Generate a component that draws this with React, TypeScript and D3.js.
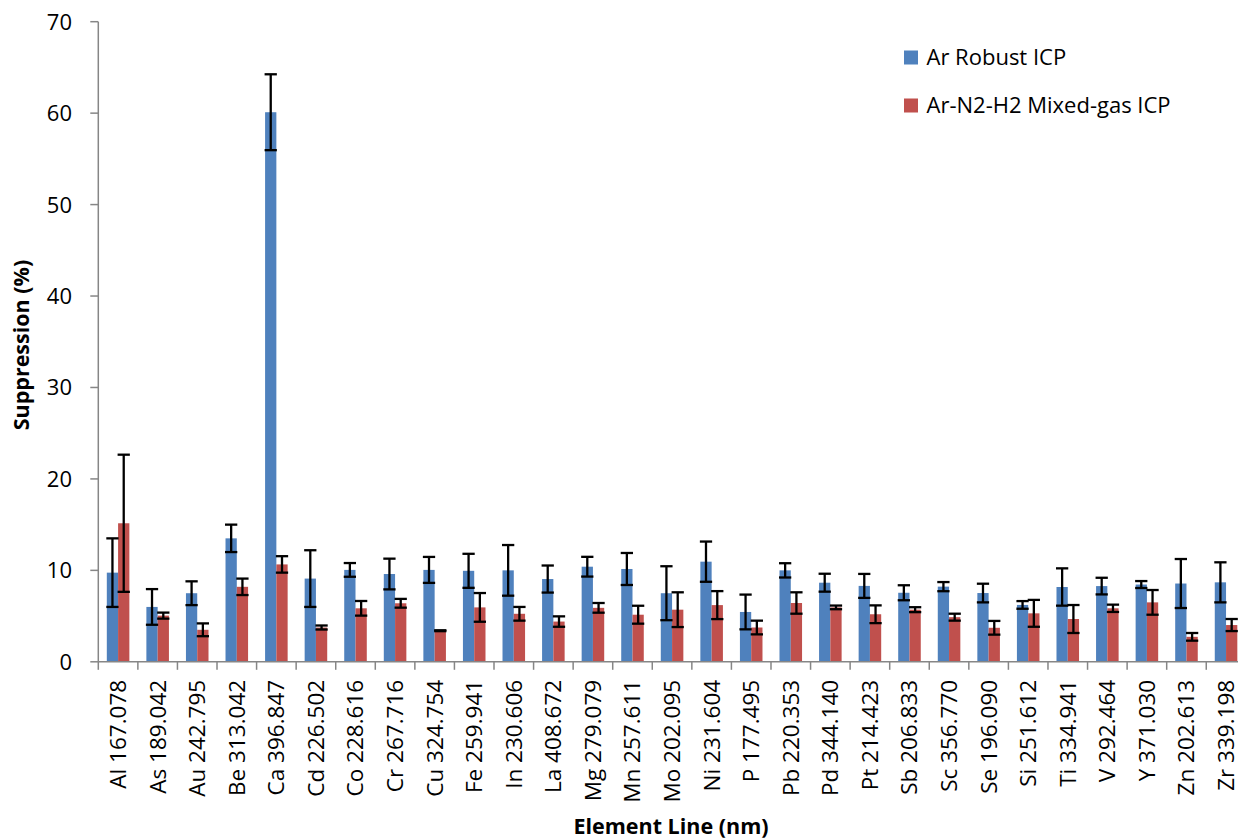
import React from "react";
import * as d3 from "d3";

const categories = ["Al 167.078","As 189.042","Au 242.795","Be 313.042","Ca 396.847","Cd 226.502","Co 228.616","Cr 267.716","Cu 324.754","Fe 259.941","In 230.606","La 408.672","Mg 279.079","Mn 257.611","Mo 202.095","Ni 231.604","P 177.495","Pb 220.353","Pd 344.140","Pt 214.423","Sb 206.833","Sc 356.770","Se 196.090","Si 251.612","Ti 334.941","V 292.464","Y 371.030","Zn 202.613","Zr 339.198"];

const seriesNames = ["Ar Robust ICP", "Ar-N2-H2 Mixed-gas ICP"];
const seriesColors = ["#4F81BD", "#C0504D"];

const robustValues = [9.75,6.0,7.5,13.5,60.1,9.1,10.05,9.6,10.05,9.95,10.0,9.05,10.4,10.15,7.5,10.95,5.45,10.0,8.65,8.3,7.55,8.22,7.52,6.22,8.18,8.28,8.45,8.56,8.69];
const robustErrors = [3.75,1.95,1.3,1.5,4.15,3.1,0.75,1.68,1.42,1.86,2.77,1.48,1.08,1.75,2.95,2.2,1.9,0.78,0.98,1.31,0.82,0.5,1.02,0.42,2.04,0.91,0.38,2.68,2.19];
const mixedValues = [15.15,5.05,3.5,8.2,10.65,3.75,5.85,6.4,3.4,5.95,5.25,4.4,5.9,5.15,5.7,6.2,3.75,6.43,5.95,5.2,5.7,4.88,3.72,5.3,4.68,5.85,6.5,2.73,4.02];
const mixedErrors = [7.5,0.33,0.7,0.9,0.9,0.22,0.8,0.48,0.05,1.57,0.75,0.57,0.53,0.98,1.9,1.53,0.75,1.17,0.2,0.97,0.27,0.38,0.75,1.47,1.53,0.4,1.35,0.42,0.66];

const yTicks = [0,10,20,30,40,50,60,70];

const W = 1238, H = 840;
const X0 = 98.3, STEP = 39.57;
const FONT = "'Open Sans', 'Liberation Sans', Arial, sans-serif";

export default function App() {
  const x = d3.scaleBand<string>().domain(categories).range([X0, X0 + categories.length * STEP]).paddingInner(0.43).paddingOuter(0.215);
  const xs = d3.scaleBand<string>().domain(seriesNames).range([0, x.bandwidth()]);
  const y = d3.scaleLinear().domain([0, 70]).range([661.8, 21.7]);
  const values = [robustValues, mixedValues];
  const errors = [robustErrors, mixedErrors];
  const axisColor = "#868686";
  const bottom = y(0);
  const boundaries = d3.range(categories.length + 1).map(i => X0 + i * STEP);

  return (
    <svg width={W} height={H} style={{ position: "absolute", left: 0, top: 0, background: "#fff" }} fontFamily={FONT}>
      {/* bars */}
      {seriesNames.map((s, si) => (
        <g key={s}>
          {categories.map((c, i) => (
            <rect key={c} x={(x(c) as number) + (xs(s) as number)} y={y(values[si][i])} width={xs.bandwidth()} height={bottom - y(values[si][i])} fill={seriesColors[si]} />
          ))}
        </g>
      ))}
      {/* y axis */}
      <line x1={X0} x2={X0} y1={y(70)} y2={bottom} stroke={axisColor} strokeWidth={1.5} />
      {yTicks.map(t => (
        <g key={t}>
          <line x1={X0 - 8} x2={X0} y1={y(t)} y2={y(t)} stroke={axisColor} strokeWidth={1.5} />
          <text x={72} y={y(t)} dy="0.36em" textAnchor="end" fontSize={22} fill="#000">{t}</text>
        </g>
      ))}
      {/* x axis */}
      <line x1={X0} x2={X0 + categories.length * STEP} y1={bottom} y2={bottom} stroke={axisColor} strokeWidth={1.5} />
      {boundaries.map((b, i) => (
        <line key={i} x1={b} x2={b} y1={bottom} y2={bottom + 8} stroke={axisColor} strokeWidth={1.5} />
      ))}
      {categories.map(c => {
        const cx = (x(c) as number) + x.bandwidth() / 2;
        return (
          <text key={c} transform={`translate(${cx},${bottom + 18}) rotate(-90)`} dy="0.35em" textAnchor="end" fontSize={22.5} fill="#000">{c}</text>
        );
      })}
      {/* error bars */}
      {seriesNames.map((s, si) => (
        <g key={s + "err"} stroke="#000" strokeWidth={2.3}>
          {categories.map((c, i) => {
            const cx = (x(c) as number) + (xs(s) as number) + xs.bandwidth() / 2;
            const hi = y(values[si][i] + errors[si][i]);
            const lo = y(values[si][i] - errors[si][i]);
            const hw = xs.bandwidth() / 2 + 0.5;
            return (
              <g key={c}>
                <line x1={cx} x2={cx} y1={hi} y2={lo} />
                <line x1={cx - hw} x2={cx + hw} y1={hi} y2={hi} />
                <line x1={cx - hw} x2={cx + hw} y1={lo} y2={lo} />
              </g>
            );
          })}
        </g>
      ))}
      {/* axis titles */}
      <text transform={`translate(29,345) rotate(-90)`} textAnchor="middle" fontWeight="bold" fontSize={21.5} fill="#000">Suppression (%)</text>
      <text x={671} y={833.5} textAnchor="middle" fontWeight="bold" fontSize={21.5} fill="#000">Element Line (nm)</text>
      {/* legend */}
      {seriesNames.map((s, si) => {
        const cy = 57.5 + si * 48;
        return (
          <g key={s + "leg"}>
            <rect x={904} y={cy - 7} width={14} height={14} fill={seriesColors[si]} />
            <text x={926.5} y={cy} dy="0.36em" fontSize={22} fill="#000">{s}</text>
          </g>
        );
      })}
    </svg>
  );
}
